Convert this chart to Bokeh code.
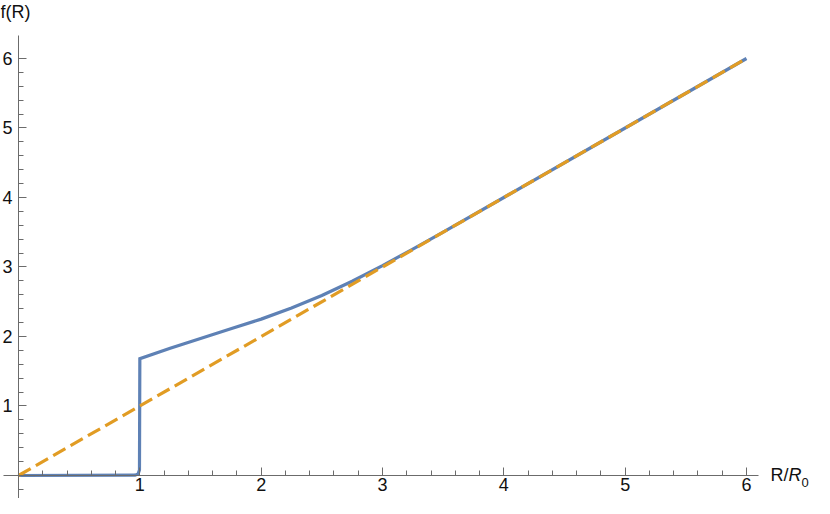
from bokeh.plotting import figure
from bokeh.models import LinearAxis, FixedTicker, Label, Range1d
from bokeh.embed import file_html
from bokeh.resources import INLINE

# ---- data ----
r_blue = [0.0, 0.96, 0.985, 0.997, 1.0, 1.25, 1.5, 1.75, 2.0, 2.25, 2.5, 2.75, 3.0, 3.25, 3.5, 4.0, 5.0, 6.0]
f_blue = [0.0, 0.004, 0.02, 0.08, 1.68, 1.83, 1.97, 2.11, 2.25, 2.41, 2.59, 2.795, 3.02, 3.258, 3.503, 4.0, 5.0, 6.0]

r_line = [0.0, 6.0]
f_line = [0.0, 6.0]

x_major = [1, 2, 3, 4, 5, 6]
x_minor = [round(0.2 * i, 1) for i in range(1, 30)]
y_major = [1, 2, 3, 4, 5, 6]
y_minor = [round(0.2 * i, 1) for i in range(-1, 30)]

BLUE = "#5E81B5"
ORANGE = "#E19C24"
AXIS = "#6b6b6b"
TEXT = "#111111"
FONT = "Liberation Sans"
FS = "18px"

p = figure(width=814, height=498, output_backend="svg", toolbar_location=None,
           x_axis_type=None, y_axis_type=None,
           x_range=Range1d(-0.1484, 6.5604), y_range=Range1d(-0.331, 6.8345),
           min_border_left=0, min_border_right=0, min_border_top=0, min_border_bottom=0)
p.outline_line_color = None
p.background_fill_color = "white"
p.border_fill_color = "white"

p.line(r_blue, f_blue, line_color=BLUE, line_width=3.2, line_join="miter")
p.line(r_line, f_line, line_color=ORANGE, line_width=3.2, line_dash="14 6", line_cap="butt")

xa = LinearAxis(fixed_location=0, ticker=FixedTicker(ticks=x_major, minor_ticks=x_minor),
                bounds=(-0.12, 6.1))
xa.axis_line_color = AXIS
xa.major_tick_line_color = AXIS
xa.minor_tick_line_color = AXIS
xa.major_tick_in = 8
xa.major_tick_out = 0
xa.minor_tick_in = 5
xa.minor_tick_out = 0
xa.major_label_standoff = 3
xa.major_label_text_font = FONT
xa.major_label_text_font_size = FS
xa.major_label_text_color = TEXT
p.add_layout(xa, "below")

ya = LinearAxis(fixed_location=0, ticker=FixedTicker(ticks=y_major, minor_ticks=y_minor),
                bounds=(-0.33, 6.33))
ya.axis_line_color = AXIS
ya.major_tick_line_color = AXIS
ya.minor_tick_line_color = AXIS
ya.major_tick_in = 8
ya.major_tick_out = 0
ya.minor_tick_in = 5
ya.minor_tick_out = 0
ya.major_label_standoff = 6
ya.major_label_text_font = FONT
ya.major_label_text_font_size = FS
ya.major_label_text_color = TEXT
p.add_layout(ya, "left")

# axis titles
p.add_layout(Label(x=0, y=6.8345, x_offset=-18, y_offset=-1, text="f(R)", text_font=FONT,
                   text_font_size=FS, text_color=TEXT,
                   text_align="left", text_baseline="top"))
p.add_layout(Label(x=6.198, y=0, text="R/", text_font=FONT,
                   text_font_size=FS, text_color=TEXT,
                   text_align="left", text_baseline="middle"))
p.add_layout(Label(x=6.198, y=0, x_offset=18, text="R", text_font=FONT,
                   text_font_size=FS, text_font_style="italic", text_color=TEXT,
                   text_align="left", text_baseline="middle"))
p.add_layout(Label(x=6.198, y=0, x_offset=31, y_offset=-7, text="0", text_font=FONT,
                   text_font_size="13px", text_color=TEXT,
                   text_align="left", text_baseline="middle"))

open("out.html", "w").write(file_html(p, INLINE))
